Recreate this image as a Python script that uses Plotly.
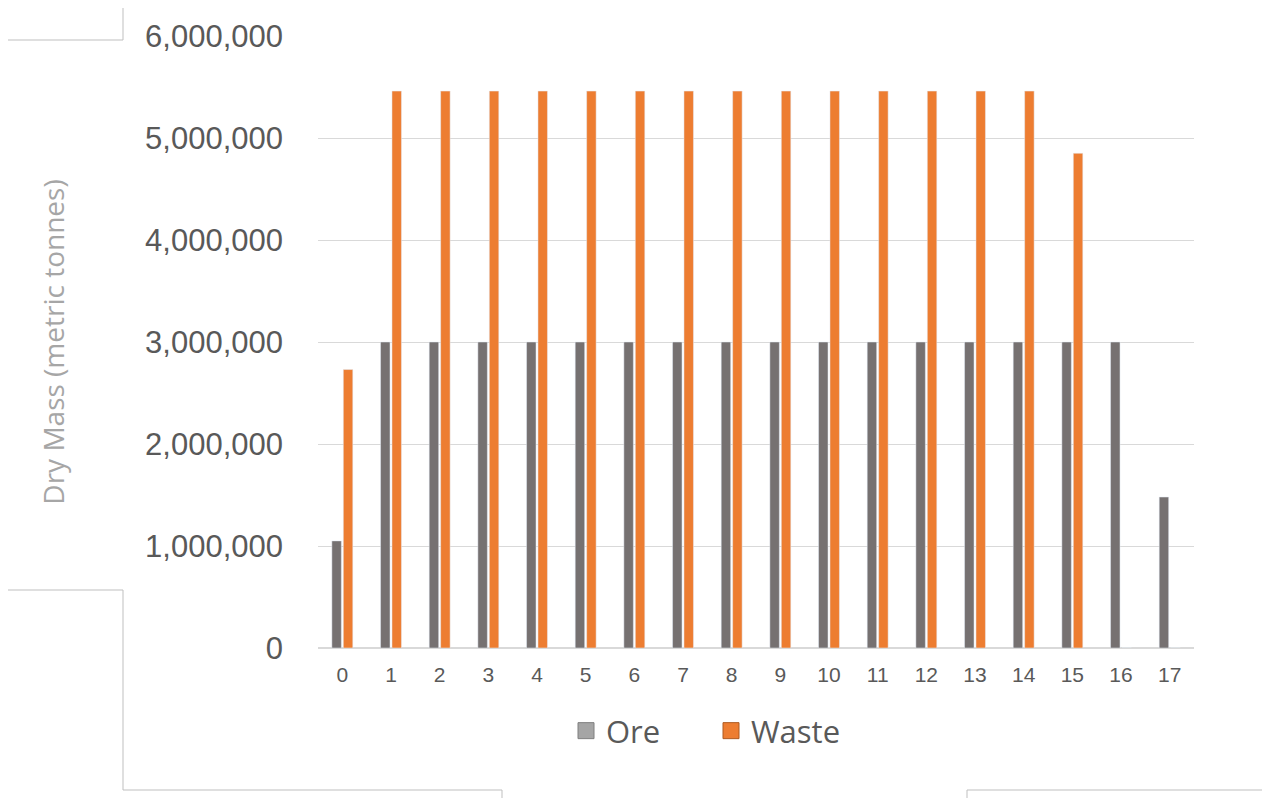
import plotly.graph_objects as go

years = [str(i) for i in range(18)]
ore = [1050000] + [3000000] * 16 + [1480000]
waste = [2730000] + [5460000] * 14 + [4850000, 0, 0]

ore_color = "#767171"
waste_color = "#ED7D31"

fig = go.Figure()
fig.add_trace(go.Bar(x=years, y=ore, name="Ore", marker_color=ore_color, showlegend=False))
fig.add_trace(go.Bar(x=years, y=waste, name="Waste", marker_color=waste_color, showlegend=False))
# legend swatches
fig.add_trace(go.Scatter(x=[None], y=[None], mode="markers", name="Ore",
                         marker=dict(symbol="square", size=21, color="#A5A5A5",
                                     line=dict(color="#7F7F7F", width=1))))
fig.add_trace(go.Scatter(x=[None], y=[None], mode="markers", name="Waste",
                         marker=dict(symbol="square", size=21, color="#ED7D31",
                                     line=dict(color="#AE5A21", width=1))))

# page body has an 8px margin, so work in screen pixels and shift
OFF = 8
FW, FH = 1270 - OFF, 798 - OFF
L, R, T, B = 318 - OFF, 1194 - OFF, 36 - OFF, 648 - OFF
W, H = R - L, B - T


def px(x):
    return (x - OFF - L) / W


def py(y):
    return (B - (y - OFF)) / H


frame = [
    ((8, 40), (123, 40)), ((123, 7), (123, 40)),
    ((8, 590), (123, 590)), ((123, 590), (123, 790)),
    ((123, 790), (502, 790)), ((502, 790), (502, 798)),
    ((967, 790), (1270, 790)), ((967, 790), (967, 798)),
]
for (x0, y0), (x1, y1) in frame:
    fig.add_shape(type="line", xref="paper", yref="paper",
                  x0=px(x0), y0=py(y0), x1=px(x1), y1=py(y1),
                  line=dict(color="#BFBFBF", width=1))

fig.update_layout(
    width=FW, height=FH,
    margin=dict(l=L, r=FW - R, t=T, b=FH - B),
    plot_bgcolor="white", paper_bgcolor="white",
    barmode="group", bargap=0.53, bargroupgap=0.17,
    font=dict(family="Liberation Sans, Arial", color="#595959"),
    legend=dict(orientation="h", x=px(566), y=py(731), xanchor="left", yanchor="middle",
                font=dict(family="Open Sans", size=31, color="#595959"),
                entrywidth=100, entrywidthmode="pixels", itemclick=False),
)
fig.update_xaxes(type="category", range=[-0.5, 17.5], showgrid=False, showline=False,
                 tickfont=dict(size=21, color="#595959"), ticklabelstandoff=12)
fig.update_yaxes(range=[0, 6000000], dtick=1000000, tickformat=",",
                 gridcolor="#D9D9D9", gridwidth=1, zeroline=True, zerolinecolor="#D9D9D9",
                 showline=False, tickfont=dict(size=31, color="#595959"),
                 ticklabelstandoff=34,
                 title=dict(text="Dry Mass (metric tonnes)", standoff=72,
                            font=dict(family="Open Sans", size=28, color="#A6A6A6")))

fig.write_html("out.html")
